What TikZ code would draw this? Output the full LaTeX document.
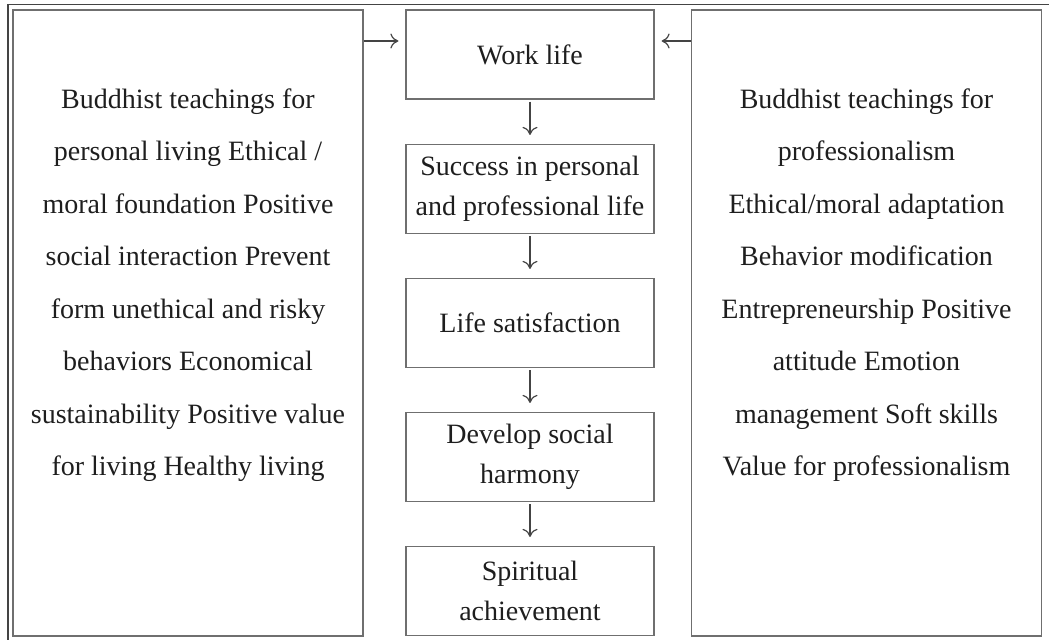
\documentclass[tikz,border=0pt]{standalone}
\usepackage{fontspec}
\setmainfont{Liberation Serif}
\usetikzlibrary{arrows.meta,positioning}
\definecolor{boxgray}{HTML}{6F6F6F}
\definecolor{framegray}{HTML}{444444}
\definecolor{txt}{HTML}{1E1E1E}
\tikzset{
  sidebox/.style={draw=boxgray, line width=1.4pt, minimum width=350pt, minimum height=626pt, inner sep=0pt},
  flowbox/.style={draw=boxgray, line width=1.2pt, minimum width=248pt, minimum height=89pt, inner sep=0pt,
    align=center, text=txt, font=\fontsize{28}{40}\selectfont},
  sidetext/.style={align=center, text=txt, inner sep=0pt, anchor=north, font=\fontsize{28}{52.5}\selectfont},
  arr/.style={draw=framegray, line width=1.2pt, -{To[length=8pt,width=15pt]}},
}
\begin{document}
\begin{tikzpicture}[x=1pt,y=-1pt]
\useasboundingbox (0,0) rectangle (1049,640);
% partial outer frame
\coordinate (ftl) at (8,4.5);
\coordinate (ftr) at (1049,4.5);
\coordinate (fbl) at (8,640);
\draw[framegray, line width=1.4pt] (ftr) -- (ftl) -- (fbl);
% side boxes
\node[sidebox] (lbox) at (188,323) {};
\node[sidebox] (rbox) at (866.5,323) {};
\node[sidetext] (ltext) at (188,88.5) {Buddhist teachings for\\personal living Ethical /\\moral foundation Positive\\social interaction Prevent\\form unethical and risky\\behaviors Economical\\sustainability Positive value\\for living Healthy living};
\node[sidetext] (rtext) at (866.5,88.5) {Buddhist teachings for\\professionalism\\Ethical/moral adaptation\\Behavior modification\\Entrepreneurship Positive\\attitude Emotion\\management Soft skills\\Value for professionalism};
% flow boxes
\node[flowbox] (b1) at (530,54.5) {Work life};
\node[flowbox] (b2) at (530,189) {Success in personal\\and professional life};
\node[flowbox] (b3) at (530,323) {Life satisfaction};
\node[flowbox] (b4) at (530,457) {Develop social\\harmony};
\node[flowbox] (b5) at (530,591) {Spiritual\\achievement};
% vertical arrows
\foreach \a/\b in {b1/b2,b2/b3,b3/b4,b4/b5}
  \draw[arr, shorten >=9pt, shorten <=2pt] (\a.south) -- (\b.north);
% horizontal arrows
\coordinate (ay) at (0,41);
\draw[arr, shorten >=7pt] (lbox.east |- ay) -- (b1.west |- ay);
\draw[arr, shorten >=7pt] (rbox.west |- ay) -- (b1.east |- ay);
\end{tikzpicture}
\end{document}
